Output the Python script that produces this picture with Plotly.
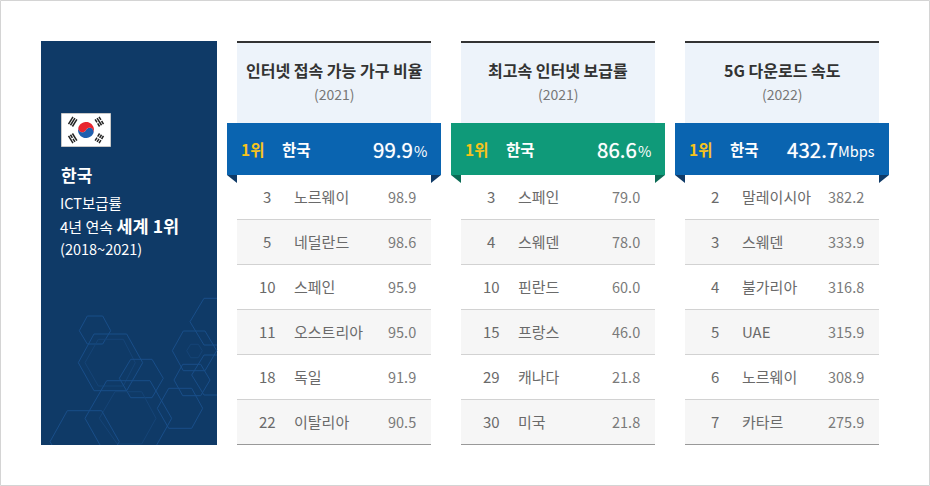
import math
import plotly.graph_objects as go

FONT = "Noto Sans CJK KR"

# ---- data ----
titles = ["인터넷 접속 가능 가구 비율", "최고속 인터넷 보급률", "5G 다운로드 속도"]
years = ["(2021)", "(2021)", "(2022)"]
top_values = ["99.9", "86.6", "432.7"]
top_units = ["%", "%", "Mbps"]
ranks_a = [3, 5, 10, 11, 18, 22]
names_a = ["노르웨이", "네덜란드", "스페인", "오스트리아", "독일", "이탈리아"]
values_a = ["98.9", "98.6", "95.9", "95.0", "91.9", "90.5"]
ranks_b = [3, 4, 10, 15, 29, 30]
names_b = ["스페인", "스웨덴", "핀란드", "프랑스", "캐나다", "미국"]
values_b = ["79.0", "78.0", "60.0", "46.0", "21.8", "21.8"]
ranks_c = [2, 3, 4, 5, 6, 7]
names_c = ["말레이시아", "스웨덴", "불가리아", "UAE", "노르웨이", "카타르"]
values_c = ["382.2", "333.9", "316.8", "315.9", "308.9", "275.9"]
ranks = [ranks_a, ranks_b, ranks_c]
names = [names_a, names_b, names_c]
values = [values_a, values_b, values_c]

# ---- styles ----
col_x = [237, 461, 685]
unit_w = [14, 14, 37]
ribbon = ["#0a64b0", "#0f9a79", "#0a64b0"]
fold = ["#0f3a67", "#0b6b55", "#0f3a67"]
PANEL = "#0f3a67"
HEX = "#194e89"
HEX_DIM = "#154477"

shapes, ann = [], []


def rect(x0, y0, x1, y1, fill, line=None):
    shapes.append(dict(type="rect", xref="x", yref="y", x0=x0, y0=y0, x1=x1, y1=y1, fillcolor=fill,
                       line=dict(color=line or fill, width=1 if line else 0), layer="above"))


def path(d, fill=None, line=None, width=1):
    s = dict(type="path", xref="x", yref="y", path=d, layer="above",
             line=dict(color=line or "rgba(0,0,0,0)", width=width if line else 0))
    if fill:
        s["fillcolor"] = fill
    shapes.append(s)


def text(x, y, t, size, color, anchor="left", shadow=None):
    f = dict(family=FONT, size=size, color=color)
    if shadow:
        f["shadow"] = shadow
    ann.append(dict(x=x, y=y, xref="x", yref="y", text=t, showarrow=False, xanchor=anchor, yanchor="middle",
                    font=f, borderpad=0, borderwidth=0))


# outer frame
rect(0.5, 0.5, 929.5, 485.5, "#ffffff", "#d4d4d4")

# left panel
rect(41, 41, 217, 445, PANEL)

# hexagons, read in zoom pixels (origin 30,280, scale 3)
hexes = [
    ([(148,152),(172,108),(218,108),(242,152),(218,192),(172,192),(148,152)], HEX),
    ([(145,248),(192,162),(290,162),(338,248),(290,332),(192,332),(145,248)], HEX),
    ([(165,248),(205,178),(280,178),(316,248),(280,318),(205,318),(165,248)], HEX_DIM),
    ([(268,295),(302,238),(366,238),(400,295),(366,353),(302,353),(268,295)], HEX),
    ([(210,495),(165,415),(230,302),(360,302),(425,415),(380,495)], HEX),
    ([(262,492),(208,415),(255,335),(335,335),(378,415),(335,492),(262,492)], HEX_DIM),
    ([(66,495),(60,485),(112,392),(215,392),(268,485),(262,495)], HEX),
    ([(382,385),(416,325),(485,325),(518,385),(485,445),(416,445),(382,385)], HEX),
    ([(427,212),(460,153),(525,153),(560,212),(525,272),(460,272),(427,212)], HEX),
    ([(470,212),(482,193),(505,193),(517,212),(505,233),(482,233),(470,212)], HEX_DIM),
    ([(432,300),(458,253),(512,253),(540,300),(512,347),(458,347),(432,300)], HEX),
    ([(561,55),(522,55),(480,125),(522,195),(561,195)], HEX),
    ([(561,225),(522,225),(485,285),(522,345),(561,345)], HEX),
]
for pts, c in hexes:
    d = "M" + " L".join(f"{30+x/3:.1f},{280+y/3:.1f}" for x, y in pts)
    path(d, line=c, width=1)

# flag
rect(61.5, 113.5, 110.5, 146.5, "#ffffff", "#c8c8c8")
cx, cy, r = 86, 130, 8
ang = math.radians(25)
ux, uy = math.cos(ang), math.sin(ang)     # along the axis, upper-left to lower-right
nx, ny = uy, -ux                          # normal, pointing up-right


def local(a, b):
    return cx + a*ux + b*nx, cy + a*uy + b*ny


def poly(pts):
    return "M" + " L".join(f"{x:.2f},{y:.2f}" for x, y in pts) + " Z"


N = 24
outer_top = [local(-r*math.cos(math.pi*i/N), r*math.sin(math.pi*i/N)) for i in range(N+1)]
outer_bot = [local(-r*math.cos(math.pi*i/N), -r*math.sin(math.pi*i/N)) for i in range(N+1)]
# S-curve: from B to centre above the axis, then centre to A below the axis
s_right = [local(r/2 + r/2*math.cos(math.pi*i/N), r/2*math.sin(math.pi*i/N)) for i in range(N+1)]
s_left = [local(-r/2 + r/2*math.cos(math.pi*i/N), -r/2*math.sin(math.pi*i/N)) for i in range(1, N+1)]
path(poly(outer_bot + s_right + s_left), fill="#1f5fae")
path(poly(outer_top + s_right + s_left), fill="#e8252f")

trigrams = [((72.7, 121.7), (False, False, False)), ((72.7, 138.3), (False, True, False)),
            ((99.3, 121.7), (True, False, True)), ((99.3, 138.3), (True, True, True))]
for (tx, ty), broken in trigrams:
    dx, dy = tx - cx, ty - cy
    n = math.hypot(dx, dy)
    rx, ry = dx/n, dy/n          # radial
    px, py = -ry, rx             # bar direction
    for i, br in enumerate(broken):
        mx, my = tx + (i-1)*2.3*rx, ty + (i-1)*2.3*ry
        L = 4.2
        if br:
            for a, b in ((-L, -0.6), (0.6, L)):
                path(f"M{mx+a*px:.2f},{my+a*py:.2f} L{mx+b*px:.2f},{my+b*py:.2f}", line="#222222", width=1.5)
        else:
            path(f"M{mx-L*px:.2f},{my-L*py:.2f} L{mx+L*px:.2f},{my+L*py:.2f}", line="#222222", width=1.5)

# left text
text(61, 174.5, "<b>한국</b>", 17, "#ffffff")
text(60, 202.5, "ICT보급률", 14.5, "#ffffff")
text(60, 225.5, "4년 연속 <b><span style='font-size:17.5px'>세계 1위</span></b>", 15, "#ffffff")
text(60, 248.5, "(2018~2021)", 14.5, "#ffffff")

# columns
ROW_H = 45
for c, x in enumerate(col_x):
    # header
    rect(x, 43, x+194, 123, "#edf3fa")
    rect(x, 41, x+194, 43, "#333333")
    text(x+97, 70, f"<b>{titles[c]}</b>", 16, "#333333", "center")
    text(x+97, 94, years[c], 14, "#777777", "center")
    # rows
    for i in range(6):
        y0 = 175 + i*ROW_H
        if i % 2:
            rect(x, y0, x+194, y0+ROW_H, "#f6f6f6")
        rect(x, y0+ROW_H-1, x+194, y0+ROW_H, "#999999" if i == 5 else "#d2d2d2")
        ym = y0 + 21.5
        text(x+30, ym, str(ranks[c][i]), 15, "#6a6a6a", "center")
        text(x+57, ym, names[c][i], 15, "#6a6a6a")
        text(x+179, ym, values[c][i], 14.5, "#7a7a7a", "right")
    # ribbon
    rect(x-10, 123, x+204, 175, ribbon[c])
    path(f"M{x-10},175 L{x},175 L{x},183 Z", fill=fold[c])
    path(f"M{x+204},175 L{x+194},175 L{x+194},183 Z", fill=fold[c])
    text(x+4, 148.5, "<b>1위</b>", 15.5, "#f7c31b")
    text(x+45, 148.5, "<b>한국</b>", 15.5, "#ffffff")
    text(x+190-unit_w[c], 148.5, top_values[c], 20.5, "#ffffff", "right", shadow="0 0 1px rgba(255,255,255,0.7)")
    text(x+190, 150.5, top_units[c], 14.5, "#ffffff", "right")

fig = go.Figure()
fig.update_layout(width=930, height=486, margin=dict(l=0, r=0, t=0, b=0), paper_bgcolor="#ffffff",
                  plot_bgcolor="#ffffff", showlegend=False, shapes=shapes, annotations=ann,
                  font=dict(family=FONT),
                  xaxis=dict(range=[0, 930], visible=False, fixedrange=True),
                  yaxis=dict(range=[486, 0], visible=False, fixedrange=True))
fig.write_html("out.html", config=dict(displayModeBar=False),
               post_script="document.body.style.margin='0';document.documentElement.style.overflow='hidden';")
